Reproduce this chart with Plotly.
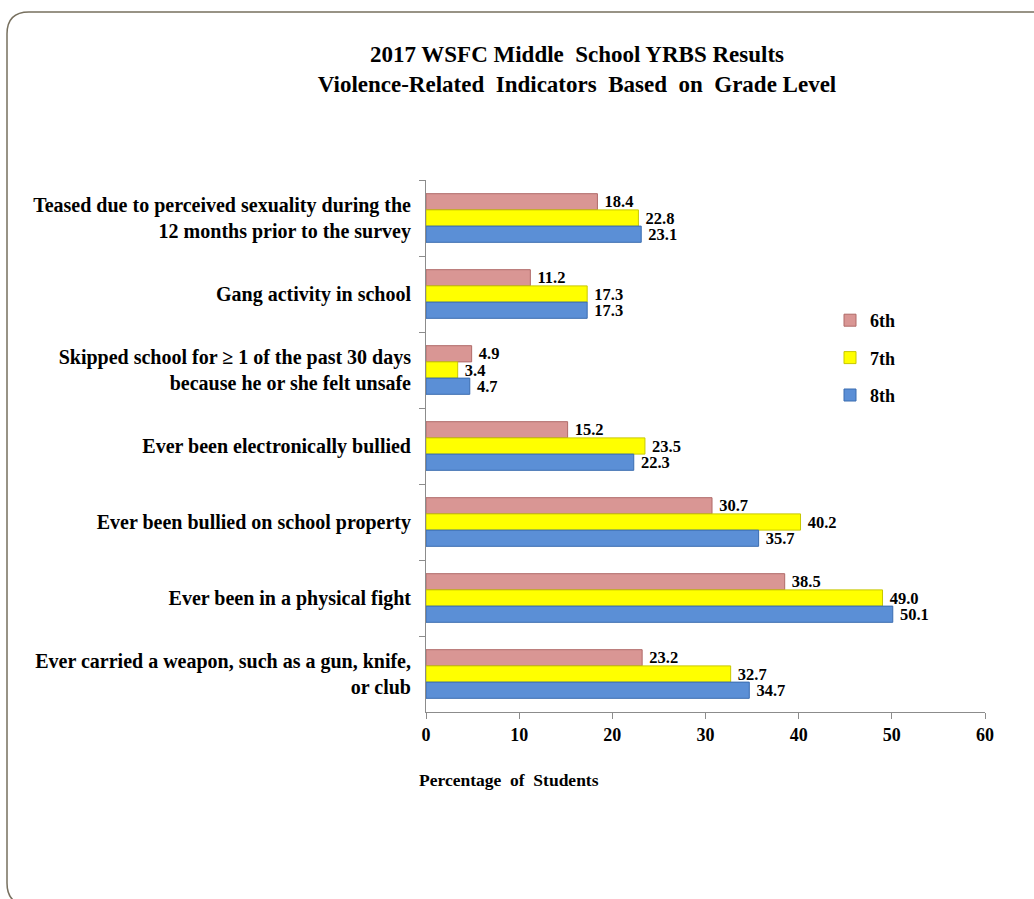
import plotly.graph_objects as go

categories = [
    "Teased due to perceived sexuality during the<br>12 months prior to the survey",
    "Gang activity in school",
    "Skipped school for \u2265 1 of the past 30 days<br>because he or she felt unsafe",
    "Ever been electronically bullied",
    "Ever been bullied on school property",
    "Ever been in a physical fight",
    "Ever carried a weapon, such as a gun, knife,<br>or club",
]
grade6 = [18.4, 11.2, 4.9, 15.2, 30.7, 38.5, 23.2]
grade7 = [22.8, 17.3, 3.4, 23.5, 40.2, 49.0, 32.7]
grade8 = [23.1, 17.3, 4.7, 22.3, 35.7, 50.1, 34.7]
series_names = ["6th", "7th", "8th"]
x_ticks = [0, 10, 20, 30, 40, 50, 60]

FONT = "Liberation Serif, Times New Roman, serif"
fills = ["#D99694", "#FFFF00", "#5B8FD6"]
edges = ["#B06A68", "#C8C800", "#3A6CB0"]

fig = go.Figure()
for name, vals, fc, ec in zip(series_names, [grade6, grade7, grade8], fills, edges):
    fig.add_trace(go.Bar(
        y=categories, x=vals, orientation="h", name=name,
        legendgroup=name,
        marker=dict(color=fc, line=dict(color=ec, width=1)),
        text=["\u00a0" + f"{v:.1f}" for v in vals],
        textposition="outside", cliponaxis=False, constraintext="none",
        textfont=dict(family=FONT, size=16.5, color="black", weight="bold"),
    ))

W, H = 1034, 899
L, R, T, B = 426, 49, 180, 187
pw, ph = W - L - R, H - T - B

def px2x(px):
    return (px - L) / pw

def py2y(py):
    return (H - B - py) / ph

# rounded frame
x0, x1 = px2x(7), px2x(1045)
y0, y1 = py2y(12), py2y(905)
rx, ry = 22 / pw, 22 / ph
path = (f"M {x0+rx},{y0} L {x1},{y0} L {x1},{y1} L {x0+rx},{y1} "
        f"Q {x0},{y1} {x0},{y1+ry} L {x0},{y0-ry} Q {x0},{y0} {x0+rx},{y0} Z")

fig.update_layout(
    width=W, height=H,
    margin=dict(l=L, r=R, t=T, b=B, autoexpand=False),
    paper_bgcolor="white", plot_bgcolor="white",
    barmode="group", bargap=0.36, bargroupgap=0.0,
    font=dict(family=FONT, size=15, color="black"),
    title=dict(
        text="<b>2017 WSFC Middle  School YRBS Results<br>Violence-Related  Indicators  Based  on  Grade Level</b>",
        x=577 / W, xanchor="center", y=1 - 62 / H, yanchor="middle",
        font=dict(family=FONT, size=23, color="black"),
    ),
    xaxis=dict(
        range=[0, 60], tickvals=x_ticks, showgrid=False, zeroline=False,
        showline=True, linecolor="#8C8C8C", linewidth=1,
        ticks="outside", ticklen=6, tickcolor="#8C8C8C",
        tickfont=dict(family=FONT, size=18, color="black", weight="bold"),
        fixedrange=True,
    ),
    yaxis=dict(
        autorange="reversed", type="category", showgrid=False,
        showline=True, linecolor="#8C8C8C", linewidth=1,
        ticks="outside", ticklen=6, tickcolor="#8C8C8C", tickson="boundaries",
        tickfont=dict(family=FONT, size=20, color="black", weight="bold"),
        ticklabelstandoff=10,
    ),
    legend=dict(
        x=px2x(830), xanchor="left", y=py2y(302), yanchor="top",
        traceorder="grouped", tracegroupgap=11,
        font=dict(family=FONT, size=18, color="black", weight="bold"),
        itemwidth=30, bgcolor="rgba(0,0,0,0)",
    ),
    shapes=[dict(type="path", path=path, xref="paper", yref="paper",
                 line=dict(color="#77705F", width=1.5), layer="below")],
    annotations=[dict(
        text="<b>Percentage  of  Students</b>", x=px2x(509), y=py2y(780),
        xref="paper", yref="paper", showarrow=False, xanchor="center", yanchor="middle",
        font=dict(family=FONT, size=17.5, color="black"),
    )],
)

fig.write_html("out.html")
